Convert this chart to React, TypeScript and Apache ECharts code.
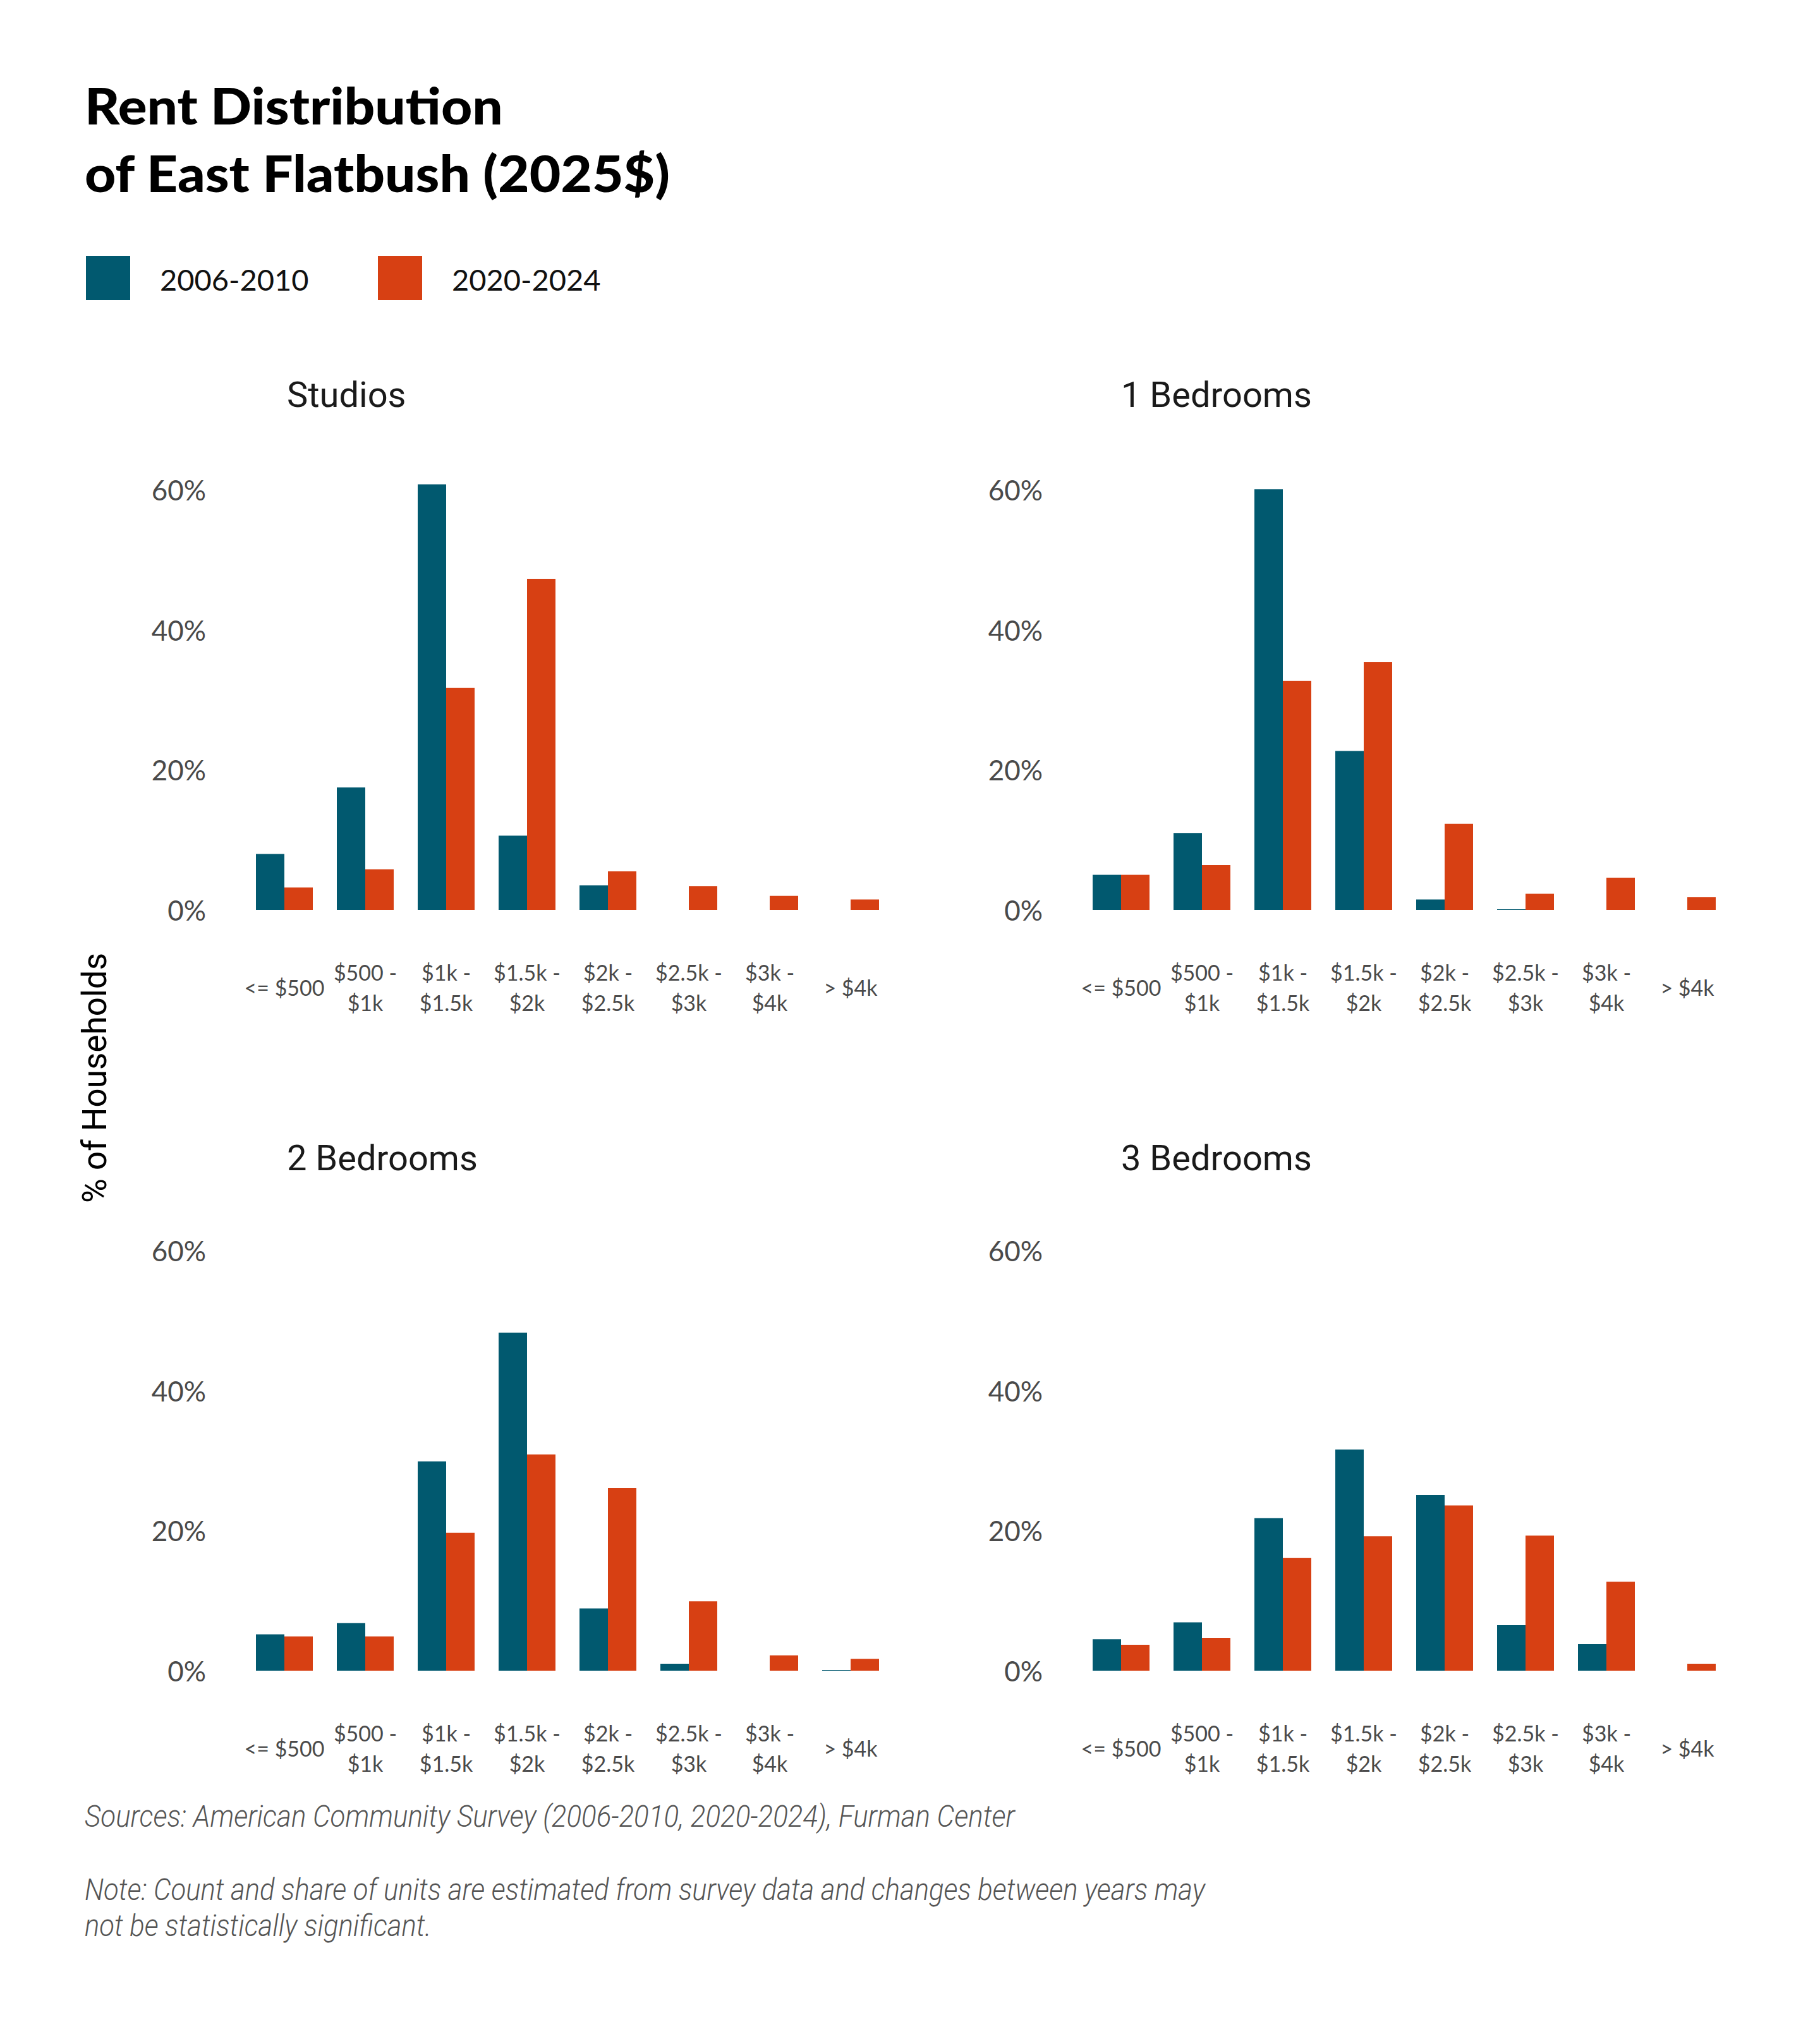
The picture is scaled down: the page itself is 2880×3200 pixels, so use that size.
import React, { useEffect, useRef } from "react";
import * as echarts from "echarts";

const categories = [
  "<= $500",
  "$500 -\n$1k",
  "$1k -\n$1.5k",
  "$1.5k -\n$2k",
  "$2k -\n$2.5k",
  "$2.5k -\n$3k",
  "$3k -\n$4k",
  "> $4k",
];
const seriesNames = ["2006-2010", "2020-2024"];
const panelTitles = ["Studios", "1 Bedrooms", "2 Bedrooms", "3 Bedrooms"];

const studios2006 = [8.0, 17.5, 60.8, 10.6, 3.5, 0, 0, 0];
const studios2020 = [3.2, 5.8, 31.7, 47.3, 5.5, 3.4, 2.0, 1.5];
const br1_2006 = [5.0, 11.0, 60.1, 22.7, 1.5, 0.1, 0, 0];
const br1_2020 = [5.0, 6.4, 32.7, 35.4, 12.3, 2.3, 4.6, 1.8];
const br2_2006 = [5.2, 6.8, 29.9, 48.3, 8.9, 1.0, 0, 0.1];
const br2_2020 = [4.9, 4.9, 19.7, 30.9, 26.1, 9.9, 2.2, 1.7];
const br3_2006 = [4.5, 6.9, 21.8, 31.6, 25.1, 6.5, 3.8, 0];
const br3_2020 = [3.7, 4.7, 16.1, 19.2, 23.6, 19.3, 12.7, 1.0];

const panelData = [
  [studios2006, studios2020],
  [br1_2006, br1_2020],
  [br2_2006, br2_2020],
  [br3_2006, br3_2020],
];

const yMin = 0;
const yMax = 65;
const yInterval = 20;

const titleLines = ["Rent Distribution", "of East Flatbush (2025$)"];
const sourceText =
  "Sources: American Community Survey (2006-2010, 2020-2024), Furman Center";
const noteLines = [
  "Note: Count and share of units are estimated from survey data and changes between years may",
  "not be statistically significant.",
];
const yAxisTitle = "% of Households";

const COLORS = ["#01596f", "#d74013"];

export default function App() {
  const ref = useRef<HTMLDivElement>(null);

  useEffect(() => {
    document.body.style.margin = "0";
    const chart = echarts.init(ref.current!, null, { renderer: "svg" });

    const gridLefts = [386, 1710, 386, 1710];
    const gridTops = [720, 720, 1924, 1924];
    const grids = gridLefts.map((l, i) => ({
      left: l,
      top: gridTops[i],
      width: 1024,
      height: 720,
    }));

    const xAxes = grids.map((_, i) => ({
      type: "category",
      gridIndex: i,
      data: categories,
      axisLine: { show: false },
      axisTick: { show: false },
      splitLine: { show: false },
      axisLabel: {
        interval: 0,
        margin: 122,
        verticalAlign: "middle",
        lineHeight: 48,
        fontSize: 34,
        color: "#4a4a4a",
        fontFamily: "Lato",
      },
    }));

    const yAxes = grids.map((_, i) => ({
      type: "value",
      gridIndex: i,
      min: yMin,
      max: yMax,
      interval: yInterval,
      axisLine: { show: false },
      axisTick: { show: false },
      splitLine: { show: false },
      axisLabel: {
        margin: 60,
        fontSize: 44,
        color: "#4a4a4a",
        fontFamily: "Lato",
        formatter: (v: number) => (v % yInterval === 0 ? `${v}%` : ""),
      },
    }));

    const series: any[] = [];
    panelData.forEach((pair, i) => {
      pair.forEach((vals, j) => {
        series.push({
          type: "bar",
          name: seriesNames[j],
          xAxisIndex: i,
          yAxisIndex: i,
          data: vals,
          barWidth: 45,
          barGap: "0%",
          itemStyle: { color: COLORS[j] },
        });
      });
    });

    const titleX = [454, 1774, 454, 1774];
    const titleY = [625, 625, 1833, 1833];

    const graphic: any[] = [];
    titleLines.forEach((t, i) => {
      graphic.push({
        type: "text",
        x: 134,
        y: 166 + i * 107,
        scaleX: 1.07,
        style: {
          text: t,
          fontFamily: "Lato",
          fontWeight: 900,
          fontSize: 80,
          fill: "#000",
          textAlign: "left",
          textVerticalAlign: "middle",
        },
      });
    });
    // legend
    const legendX = [136, 598];
    seriesNames.forEach((n, j) => {
      graphic.push({
        type: "rect",
        shape: { x: legendX[j], y: 405, width: 70, height: 70 },
        style: { fill: COLORS[j] },
      });
      graphic.push({
        type: "text",
        x: legendX[j] + 117,
        y: 442,
        style: {
          text: n,
          fontFamily: "Lato",
          fontSize: 47,
          fill: "#111",
          textAlign: "left",
          textVerticalAlign: "middle",
        },
      });
    });
    panelTitles.forEach((t, i) => {
      graphic.push({
        type: "text",
        x: titleX[i],
        y: titleY[i],
        style: {
          text: t,
          fontFamily: "Roboto",
          fontSize: 56,
          fill: "#1a1a1a",
          textAlign: "left",
          textVerticalAlign: "middle",
        },
      });
    });
    graphic.push({
      type: "text",
      x: 150,
      y: 1706,
      rotation: Math.PI / 2,
      style: {
        text: yAxisTitle,
        fontFamily: "Roboto",
        fontSize: 53,
        fill: "#000",
        textAlign: "center",
        textVerticalAlign: "middle",
      },
    });
    graphic.push({
      type: "text",
      x: 134,
      y: 2874,
      scaleX: 0.915,
      style: {
        text: sourceText,
        fontFamily: "Roboto",
        fontStyle: "italic",
        fontWeight: 300,
        fontSize: 48,
        fill: "#555",
        textAlign: "left",
        textVerticalAlign: "middle",
      },
    });
    noteLines.forEach((t, i) => {
      graphic.push({
        type: "text",
        x: 134,
        y: 2990 + i * 57,
        scaleX: 0.91,
        style: {
          text: t,
          fontFamily: "Roboto",
          fontStyle: "italic",
          fontWeight: 300,
          fontSize: 48,
          fill: "#555",
          textAlign: "left",
          textVerticalAlign: "middle",
        },
      });
    });

    chart.setOption({
      animation: false,
      backgroundColor: "#fff",
      grid: grids,
      xAxis: xAxes,
      yAxis: yAxes,
      series,
      graphic,
    });

    return () => chart.dispose();
  }, []);

  return <div ref={ref} style={{ width: 2880, height: 3200 }} />;
}
